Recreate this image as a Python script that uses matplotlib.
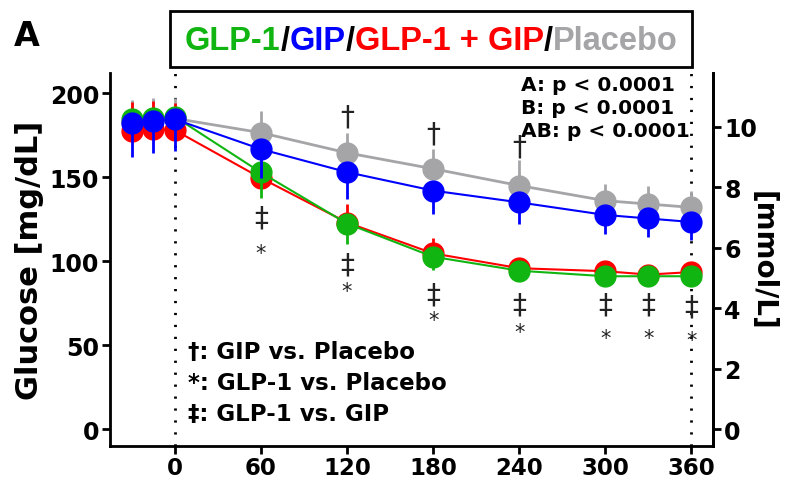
import numpy as np
import matplotlib
matplotlib.use("Agg")
import matplotlib.pyplot as plt
from matplotlib.patches import Rectangle

# glucose time course, mg/dL
t = [-30, -15, 0, 60, 120, 180, 240, 300, 330, 360]

placebo = [182, 184, 185, 176.5, 164.5, 155, 145, 136, 134, 132]
gip = [182, 183.5, 184.5, 166.7, 153, 142, 135, 127.5, 125.4, 123.3]
glp1 = [184.5, 185, 186, 152.8, 122.4, 102.6, 94.3, 91, 91, 91]
combo = [177.5, 178.5, 178, 149.5, 123, 104.6, 95.8, 94, 92, 93.5]

placebo_up = [14, 13, 12, 13, 12, 11.5, 15, 10, 11, 10]
gip_down = [20, 19, 19, 17, 16, 14, 13, 11.5, 11, 11]
glp1_down = [8, 8, 8, 15, 12, 8, 4, 3, 3, 3]
combo_up = [17, 17, 16, 6, 11, 9, 5, 3, 3, 3]

# significance marks
dagger_t = [120, 180, 240]
dagger_y = [186, 176, 168]
ddagger_t = [60, 120, 180, 240, 300, 330, 360]
ddagger_y = [126, 98, 80, 74, 74, 74, 73]
star_t = [60, 120, 180, 240, 300, 330, 360]
star_y = [105, 82, 65, 58, 54, 54, 53]

c_glp = "#11b511"
c_gip = "#0000ff"
c_combo = "#ff0000"
c_plac = "#a5a5a8"

fig = plt.figure(figsize=(7.87, 4.81), dpi=100)
ax = fig.add_axes([0.140, 0.071, 0.766, 0.775])

zero = [0] * len(t)
ax.errorbar(t, placebo, yerr=[zero, placebo_up], color=c_plac, lw=2, elinewidth=2,
            marker="o", ms=15, mec=c_plac, zorder=2)
ax.errorbar(t, combo, yerr=[zero, combo_up], color=c_combo, lw=1.5, elinewidth=2,
            marker="o", ms=15, mec=c_combo, zorder=3)
ax.errorbar(t, glp1, yerr=[glp1_down, zero], color=c_glp, lw=1.5, elinewidth=2,
            marker="o", ms=15, mec=c_glp, zorder=4)
ax.errorbar(t, gip, yerr=[gip_down, zero], color=c_gip, lw=1.5, elinewidth=2,
            marker="o", ms=15, mec=c_gip, zorder=5)

for xv in [0, 360]:
    ax.axvline(xv, color="black", lw=2, ls=(0, (0.8, 3.5)), zorder=1)

for x, y in zip(dagger_t, dagger_y):
    ax.text(x, y, "†", ha="center", va="center", fontsize=20, color="#222222")
for x, y in zip(ddagger_t, ddagger_y):
    ax.text(x, y, "‡", ha="center", va="center", fontsize=20, color="#222222")
for x, y in zip(star_t, star_y):
    ax.text(x, y, "*", ha="center", va="center", fontsize=15, color="#222222")

ax.set_xlim(-45, 375)
ax.set_ylim(-10, 212)
ax.set_xticks([0, 60, 120, 180, 240, 300, 360])
ax.set_yticks([0, 50, 100, 150, 200])
ax.spines["top"].set_visible(False)
for s in ["left", "bottom", "right"]:
    ax.spines[s].set_linewidth(2)
ax.tick_params(direction="out", length=6, width=2, labelsize=17, pad=2)
ax.tick_params(axis="x", labelsize=16.5, pad=1)
for lab in ax.get_xticklabels() + ax.get_yticklabels():
    lab.set_fontweight("bold")
ax.set_ylabel("Glucose [mg/dL]", fontsize=22, fontweight="bold", labelpad=4)

ax2 = ax.twinx()
ax2.set_ylim(-10 / 18, 212 / 18)
ax2.set_yticks([0, 2, 4, 6, 8, 10])
ax2.spines["top"].set_visible(False)
ax2.spines["right"].set_linewidth(2)
ax2.tick_params(direction="out", length=6, width=2, labelsize=17, pad=2)
for lab in ax2.get_yticklabels():
    lab.set_fontweight("bold")
ax2.set_ylabel("[mmol/L]", fontsize=20, fontweight="bold", rotation=270, labelpad=14)

# p-values
ptxt = ["A: p < 0.0001", "B: p < 0.0001", "AB: p < 0.0001"]
for i, s in enumerate(ptxt):
    ax.text(241, 205 - i * 13.5, s, fontsize=14.5, fontweight="bold", va="center", ha="left")

# key for marks
keys = ["†: GIP vs. Placebo", "*: GLP-1 vs. Placebo", "‡: GLP-1 vs. GIP"]
for i, s in enumerate(keys):
    ax.text(9, 46 - i * 18.5, s, fontsize=16.5, fontweight="bold", va="center", ha="left")

# panel letter
fig.text(0.018, 0.925, "A", fontsize=24, fontweight="bold", va="center", ha="left")

# title box with coloured names
fig.patches.append(Rectangle((0.216, 0.859), 0.663, 0.116, transform=fig.transFigure,
                             fill=False, ec="black", lw=2))
parts = [("GLP-1", c_glp), ("/", "black"), ("GIP", c_gip), ("/", "black"),
         ("GLP-1 + GIP", c_combo), ("/", "black"), ("Placebo", c_plac)]
prev = ax.annotate(parts[0][0], xy=(0.235, 0.913), xycoords="figure fraction",
                   color=parts[0][1], fontsize=23.5, fontweight="bold",
                   family="Liberation Sans", va="center", ha="left",
                   annotation_clip=False)
for s, c in parts[1:]:
    prev = ax.annotate(s, xy=(1, 0), xycoords=prev, color=c, fontsize=23.5,
                       fontweight="bold", family="Liberation Sans",
                       va="bottom", ha="left", annotation_clip=False)

fig.savefig("out.png", dpi=100)
